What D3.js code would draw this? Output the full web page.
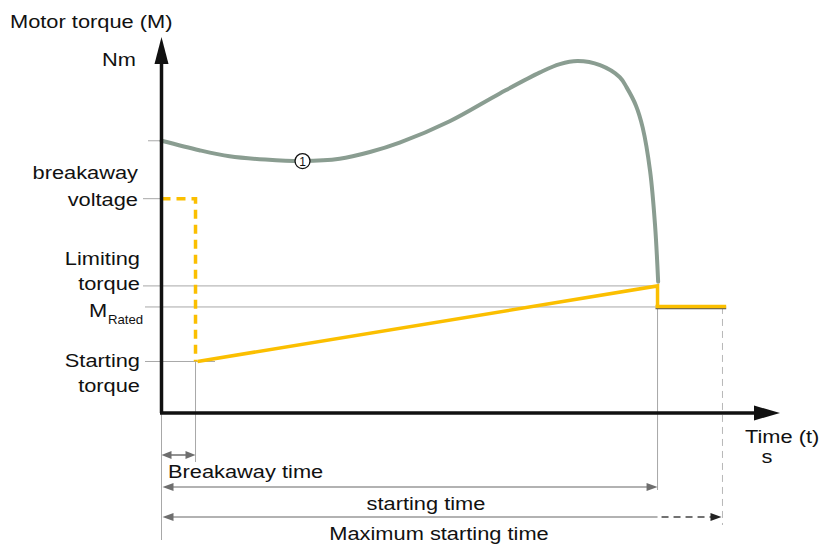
<!DOCTYPE html>
<html><head><meta charset="utf-8">
<script src="https://cdn.jsdelivr.net/npm/d3@7/dist/d3.min.js"></script>
<style>body{margin:0;background:#fff}svg{display:block}text{font-family:"Liberation Sans",Arial,sans-serif;fill:#111}</style>
</head><body><svg id="c" width="820" height="550"></svg>
<script>
// ---- data (time in arbitrary units, torque in % of axis) ----
const curveT = [0, 6.1, 11.0, 16.8, 22.8, 28.8, 33.7, 38.5, 46.6, 54.7, 61.2, 64.4, 67.3, 70.9, 74.1, 75.2, 76.7, 77.8, 79.0, 79.8, 80.3];
const curveM = [72.4, 69.9, 68.3, 67.4, 67.0, 67.6, 69.4, 71.9, 77.6, 85.0, 90.6, 92.8, 93.6, 92.5, 89.3, 86.6, 81.8, 75.9, 64.3, 49.9, 34.9];
const levelNames = ["breakaway voltage", "Limiting torque", "M_Rated", "Starting torque"];
const levelValues = [57, 33.8, 28.2, 13.7];
const curveStart = 72.4;
const breakawayTime = 5.5, startingTime = 80.2, maxStartingTime = 90.7, rampEndTime = 91.3;
const axisMax = 100;
const timeLabels = ["Breakaway time", "starting time", "Maximum starting time"];

const svg = d3.select("#c");
const x = d3.scaleLinear().domain([0, axisMax]).range([161.5, 780]);
const y = d3.scaleLinear().domain([0, axisMax]).range([413, 37]);
const SX = 1.18, FS = 18.5;
const grey = "#a8a8a8", arrowGrey = "#6e6e6e", yellow = "#fbbf00", curveCol = "#8a9d91";

function txt(s, px, py, anchor, fs) {
  fs = fs || FS;
  return svg.append("text").attr("transform", `translate(${px},${py}) scale(${SX},1)`)
    .attr("font-size", fs).attr("text-anchor", anchor || "start").text(s);
}
function line(x1, y1, x2, y2, col, w, dash) {
  const l = svg.append("line").attr("x1", x1).attr("y1", y1).attr("x2", x2).attr("y2", y2)
    .attr("stroke", col).attr("stroke-width", w);
  if (dash) l.attr("stroke-dasharray", dash);
  return l;
}
function head(px, py, dir, col, len, half) {
  svg.append("path").attr("d", `M${px},${py} L${px - dir * len},${py - half} L${px - dir * len},${py + half} Z`).attr("fill", col);
}

// guide lines
const yB = y(levelValues[0]), yL = y(levelValues[1]), yR = y(levelValues[2]), yS = y(levelValues[3]);
line(148, y(curveStart), x(0), y(curveStart), grey, 1);
line(143, yB, x(0), yB, grey, 1);
line(143, yL, x(startingTime), yL, grey, 1);
line(145, yR, x(rampEndTime), yR, grey, 1);
line(145, yS, 215, yS, grey, 1);
line(x(0), y(0), x(0), 540, grey, 1);
line(x(breakawayTime), yS, x(breakawayTime), 462, grey, 1);
line(x(startingTime), yL, x(startingTime), 490, grey, 1);
line(x(maxStartingTime), yR, x(maxStartingTime), 525, "#b8b8b8", 1, "7,5");

// motor torque curve
const pts = curveT.map((t, i) => [x(t), y(curveM[i])]);
svg.append("path").attr("d", d3.line().curve(d3.curveCatmullRom.alpha(0.5))(pts))
  .attr("fill", "none").attr("stroke", curveCol).attr("stroke-width", 4).attr("stroke-linecap", "round");

// yellow: breakaway voltage pulse (dashed)
svg.append("path").attr("d", `M${x(0)},${yB} L${x(breakawayTime)},${yB} L${x(breakawayTime)},${yS}`)
  .attr("fill", "none").attr("stroke", yellow).attr("stroke-width", 3.5).attr("stroke-dasharray", "9,6");
// ramp
svg.append("path").attr("d", `M${x(breakawayTime) + 2},${yS} L${x(startingTime)},${yL} L${x(startingTime)},${yR - 1}`)
  .attr("fill", "none").attr("stroke", yellow).attr("stroke-width", 3.5);
line(x(startingTime) - 2, yR + 1.5, x(rampEndTime), yR + 1.5, "#555", 1.5);
line(x(startingTime) - 2, yR - 0.5, x(rampEndTime), yR - 0.5, yellow, 3.5);

// circle marker
const cx = x(curveT[4]), cy = y(curveM[4]);
svg.append("circle").attr("cx", cx).attr("cy", cy).attr("r", 7.5).attr("fill", "#fff").attr("stroke", "#111").attr("stroke-width", 1.3);
svg.append("text").attr("x", cx).attr("y", cy + 4.5).attr("text-anchor", "middle").attr("font-size", 12).text("1");

// axes
line(x(0), y(0), x(0), 60, "#111", 3.5);
svg.append("path").attr("d", `M${x(0)},37 L${x(0) - 7},64 L${x(0) + 7},64 Z`).attr("fill", "#111");
line(x(0) - 1.5, y(0), 758, y(0), "#111", 3.5);
head(780, y(0), 1, "#111", 26, 7.5);

// axis titles
txt("Motor torque (M)", 10, 28);
txt("Nm", 136, 66, "end");
txt("Time (t)", 745, 443);
txt("s", 767, 463, "middle");

// level labels
txt("breakaway", 138, 179, "end");
txt("voltage", 138, 206, "end");
txt("Limiting", 140, 265, "end");
txt("torque", 140, 290, "end");
txt("M", 89, 317);
svg.append("text").attr("transform", `translate(108,324) scale(1.1,1)`).attr("font-size", 12).text("Rated");
txt("Starting", 140, 367, "end");
txt("torque", 140, 392, "end");

// time arrows
const yA1 = 455, yA2 = 487, yA3 = 517;
line(x(0) + 8, yA1, x(breakawayTime) - 8, yA1, arrowGrey, 1.5);
head(x(0), yA1, -1, arrowGrey, 10, 4);
head(x(breakawayTime), yA1, 1, arrowGrey, 10, 4);
txt(timeLabels[0], 168, 478);

line(x(0) + 8, yA2, x(startingTime) - 10, yA2, "#999", 1.5);
head(x(0) + 1, yA2, -1, arrowGrey, 11, 4);
head(x(startingTime), yA2, 1, arrowGrey, 11, 4);
txt(timeLabels[1], 426, 510, "middle");

line(x(0) + 8, yA3, x(startingTime), yA3, "#999", 1.5);
line(x(startingTime) + 4, yA3, x(maxStartingTime) - 10, yA3, "#444", 1.3, "7,5");
head(x(0) + 1, yA3, -1, arrowGrey, 11, 4);
head(x(maxStartingTime) - 1, yA3, 1, "#222", 11, 4);
txt(timeLabels[2], 439, 540, "middle");
</script></body></html>
